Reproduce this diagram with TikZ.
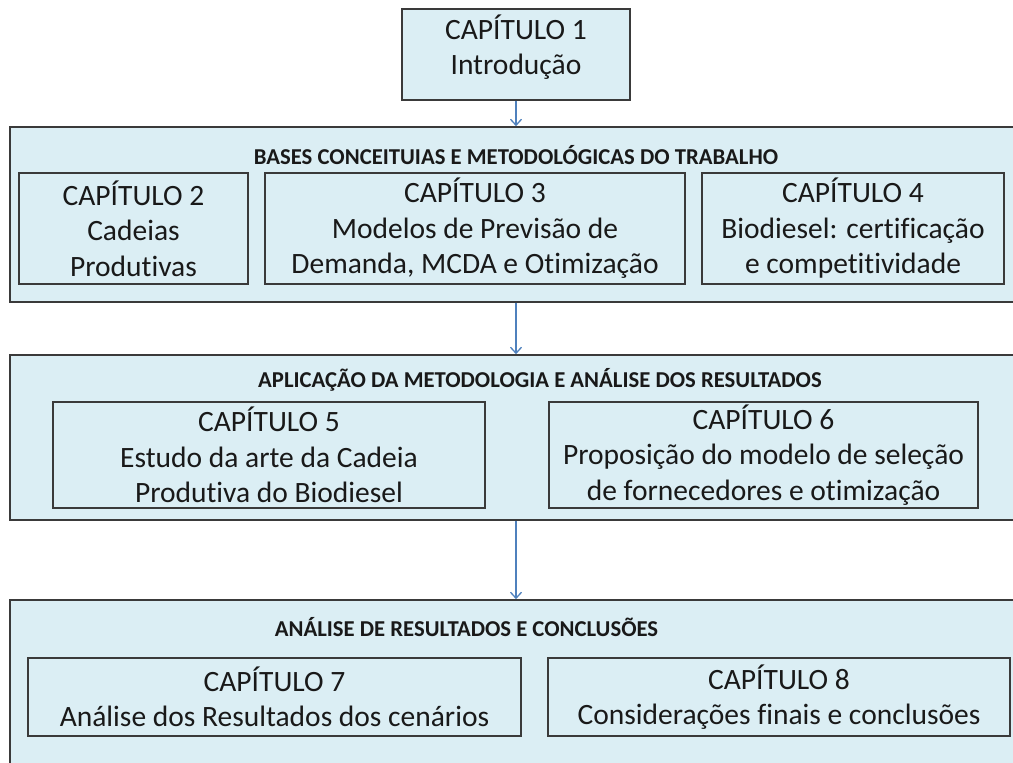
\documentclass[tikz,border=0pt]{standalone}
\usepackage{fontspec}
\setmainfont{Carlito}[Ligatures=NoCommon]
\usetikzlibrary{arrows.meta, positioning}

\definecolor{boxfill}{HTML}{DBEEF4}
\definecolor{boxline}{HTML}{3A3A3A}
\definecolor{arrowblue}{HTML}{4F81BD}

\begin{document}
\begin{tikzpicture}[x=1pt, y=-1pt,
    part/.style={draw=boxline, fill=boxfill, line width=1.6pt, inner sep=0pt},
    chap/.style={draw=boxline, fill=boxfill, line width=1.3pt, inner sep=0pt, align=center,
                 font=\fontsize{29.5}{35.5}\selectfont, text=black!90},
    parttitle/.style={font=\bfseries\fontsize{22.7}{26}\selectfont, text=black!90, inner sep=0pt},
    flow/.style={-{Straight Barb[length=6pt, width=11pt]}, draw=arrowblue, line width=1.3pt}]
        \path[use as bounding box, clip] (0,0) rectangle (1013,763);
        \fill[white] (0,0) rectangle (1013,763);

        % top chapter
        \node[chap, minimum width=228pt, minimum height=91pt, text depth=20pt] (c1) at (516,54.5) {CAPÍTULO 1\\Introdução};

        % bases conceituais
        \node[part, minimum width=1020pt, minimum height=175pt] (partA) at (520,214.5) {};
        \node[parttitle] (titleA) at (516,155) {BASES CONCEITUIAS E METODOLÓGICAS DO TRABALHO};
        \node[chap, minimum width=229pt, minimum height=111pt] (c2) at (133.5,228.5) {CAPÍTULO 2\\Cadeias\\Produtivas};
        \node[chap, minimum width=420pt, minimum height=111pt] (c3) at (475,228.5) {CAPÍTULO 3\\Modelos de Previsão de\\Demanda, MCDA e Otimização};
        \node[chap, minimum width=302pt, minimum height=111pt] (c4) at (853,228.5) {CAPÍTULO 4\\Biodiesel: certificação\\e competitividade};

        % aplicacao
        \node[part, minimum width=1020pt, minimum height=165pt] (partB) at (520,437.5) {};
        \node[parttitle] (titleB) at (540,380) {APLICAÇÃO DA METODOLOGIA E ANÁLISE DOS RESULTADOS};
        \node[chap, minimum width=432pt, minimum height=106pt] (c5) at (269,455) {CAPÍTULO 5\\Estudo da arte da Cadeia\\Produtiva do Biodiesel};
        \node[chap, minimum width=429pt, minimum height=106pt] (c6) at (763.5,455) {CAPÍTULO 6\\Proposição do modelo de seleção\\de fornecedores e otimização};

        % conclusoes
        \node[part, minimum width=1020pt, minimum height=200pt] (partC) at (520,700) {};
        \node[parttitle] (titleC) at (466.5,627) {ANÁLISE DE RESULTADOS E CONCLUSÕES};
        \node[chap, minimum width=493pt, minimum height=78pt] (c7) at (274.5,697) {CAPÍTULO 7\\Análise dos Resultados dos cenários};
        \node[chap, minimum width=462pt, minimum height=78pt] (c8) at (779,697) {CAPÍTULO 8\\Considerações finais e conclusões};

        \draw[flow] (c1.south) -- (c1.south |- partA.north);
        \draw[flow] (c1.south |- partA.south) -- (c1.south |- partB.north);
        \draw[flow] (c1.south |- partB.south) -- (c1.south |- partC.north);
\end{tikzpicture}
\end{document}
